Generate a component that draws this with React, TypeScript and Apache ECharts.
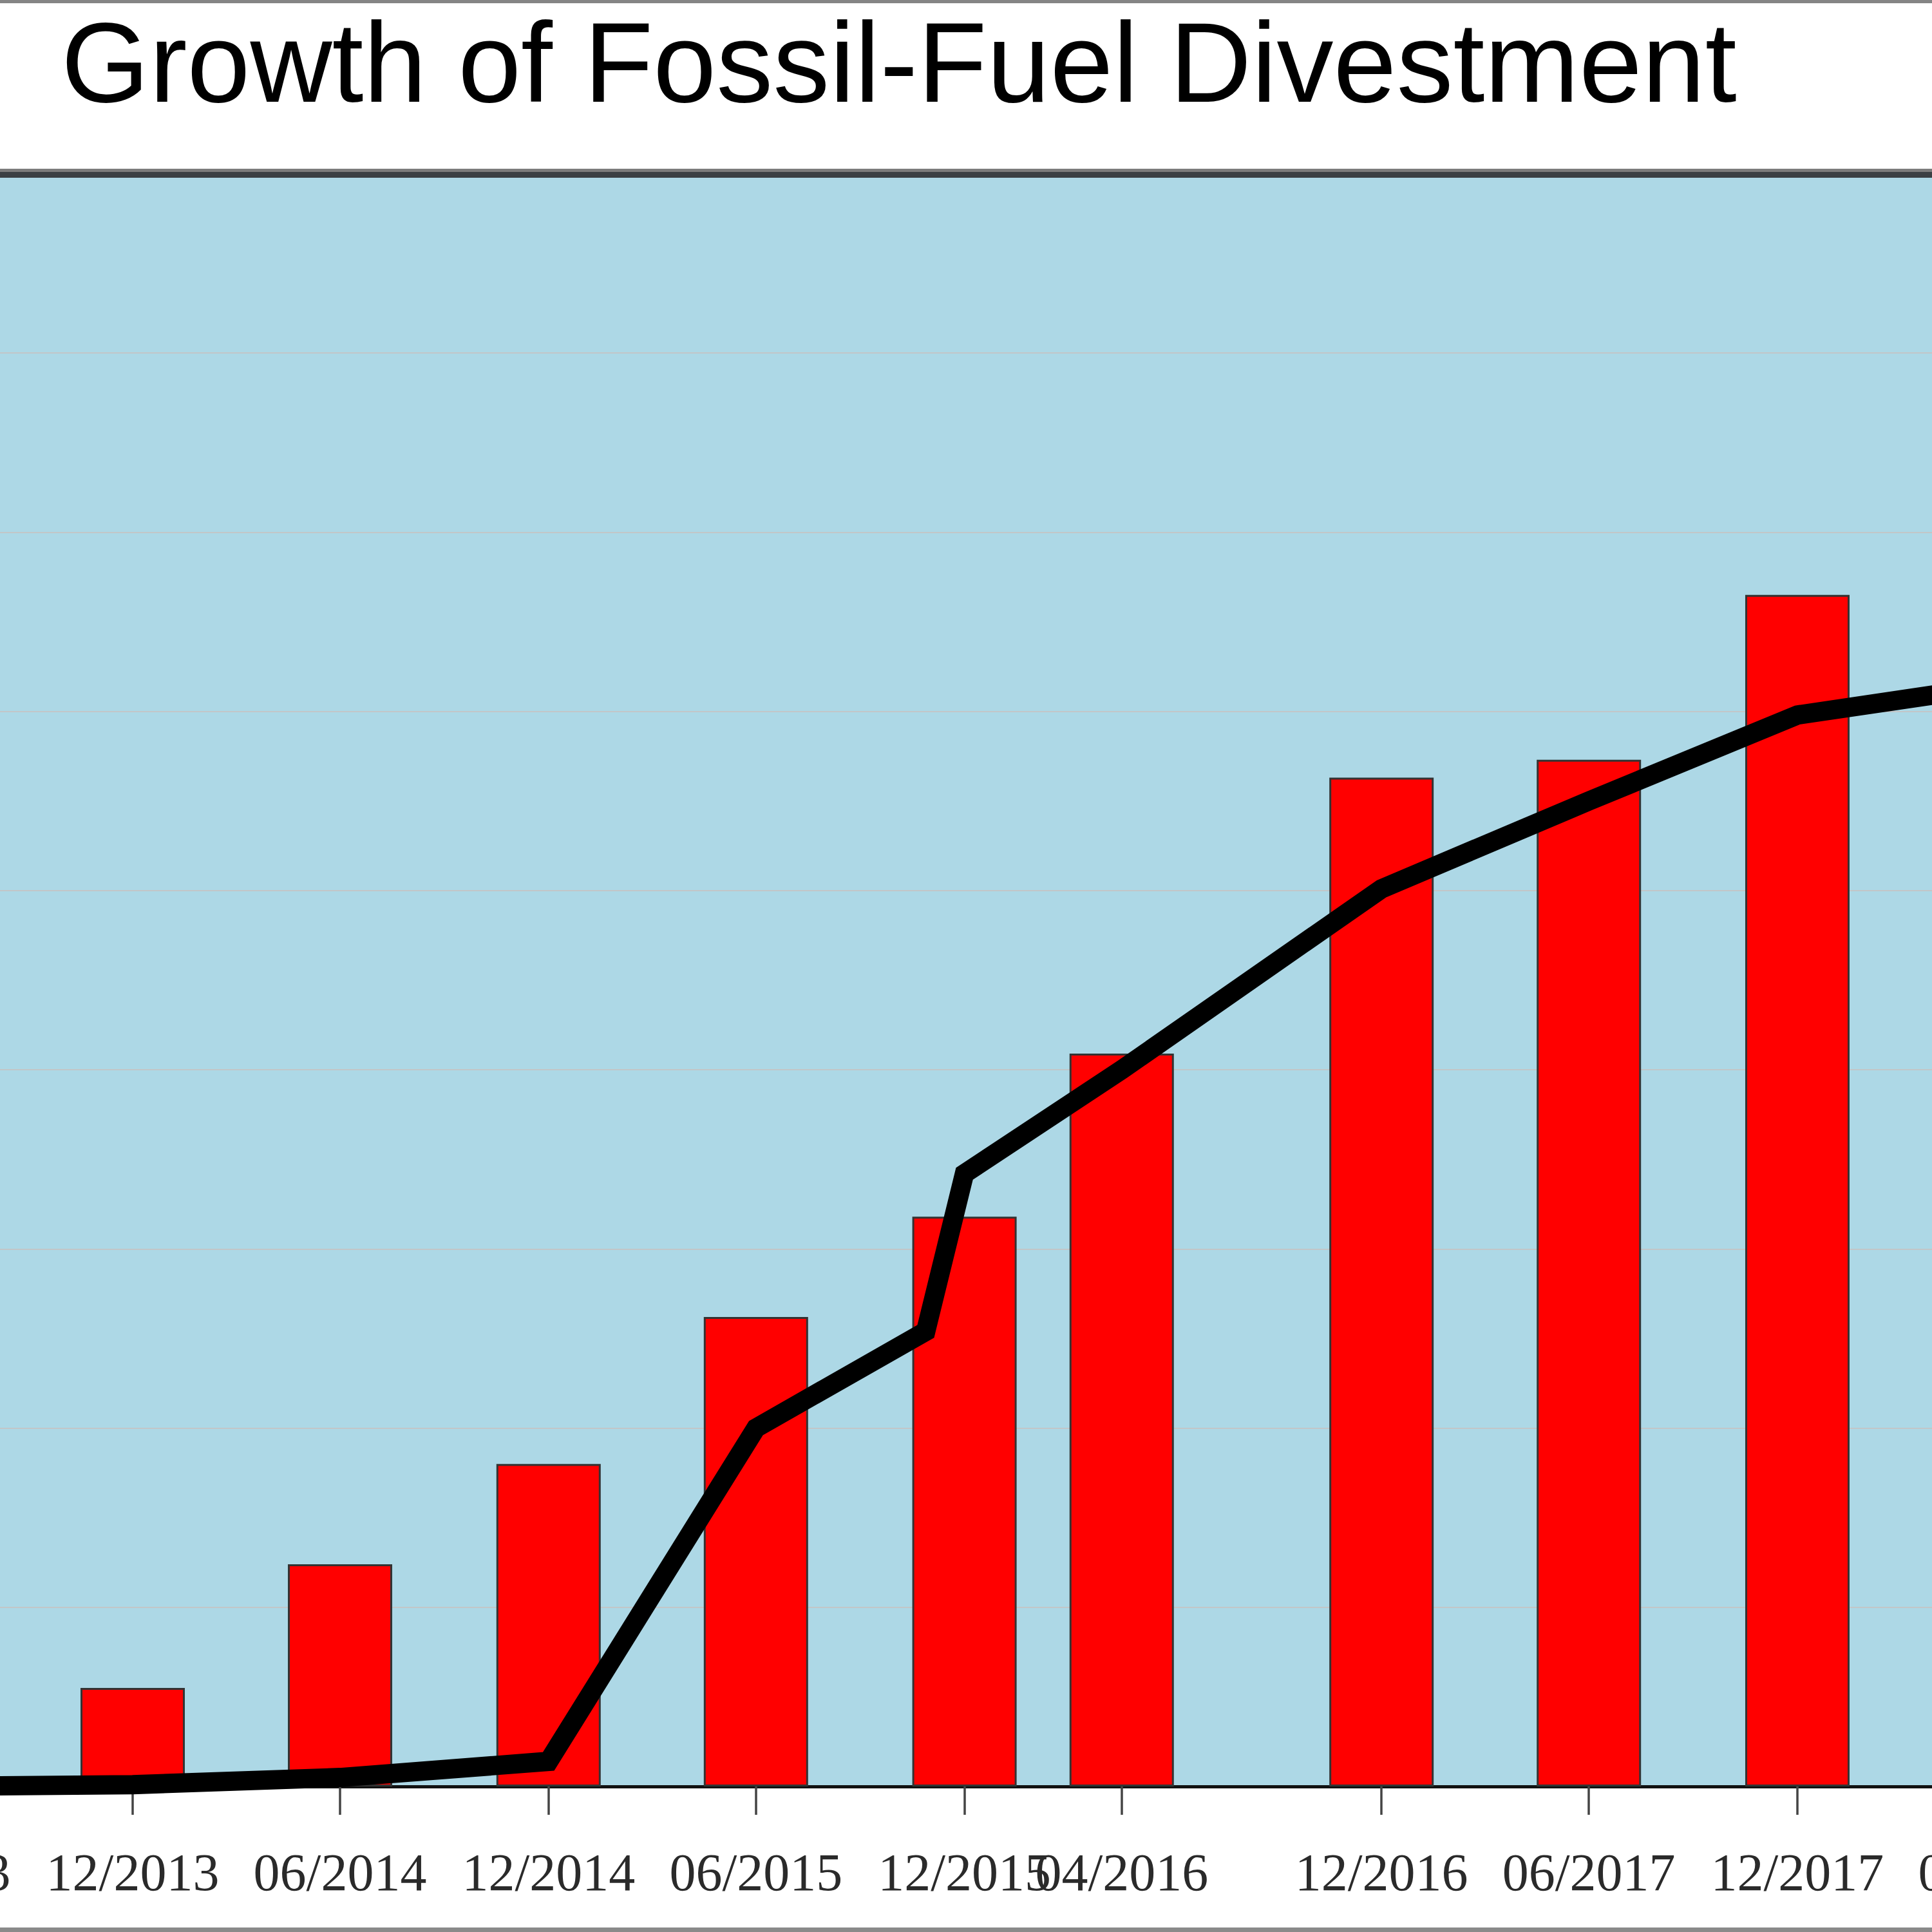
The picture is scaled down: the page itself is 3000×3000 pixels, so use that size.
import React, { useEffect, useRef } from "react";
import * as echarts from "echarts";

const TITLE = "Growth of Fossil-Fuel Divestment";

// Institutions committed (bars, left axis 0–900)
const barDates = [
  "2013-12-01", "2014-06-01", "2014-12-01", "2015-06-01", "2015-12-01",
  "2016-04-17", "2016-12-01", "2017-06-01", "2017-12-01",
];
const barValues = [55, 124, 180, 262, 318, 409, 563, 573, 665];

// Assets under management, trillion USD (line, right axis 0–9)
const lineDates = [
  "2013-06-01", "2013-12-01", "2014-06-01", "2014-12-01", "2015-06-01",
  "2015-10-28", "2015-12-01", "2016-04-17", "2016-12-01", "2017-06-01",
  "2017-12-01", "2018-06-01",
];
const lineValues = [0, 0.01, 0.05, 0.14, 2.0, 2.54, 3.42, 4.0, 5.01, 5.5, 5.98, 6.15];

// Dates that carry a tick and a MM/YYYY label
const tickDates = [
  "2013-06-01", "2013-12-01", "2014-06-01", "2014-12-01", "2015-06-01",
  "2015-12-01", "2016-04-17", "2016-12-01", "2017-06-01", "2017-12-01",
  "2018-06-01",
];

const ts = (d: string) => Date.parse(d + "T00:00:00Z");

// The chart canvas is wider than the page; the axis range spans the whole canvas
const OFFSET = 400;
const CHART_W = 3000 + 2 * OFFSET;
const CHART_H = 3000;
const X_MIN = Date.UTC(2012, 11, 23, 12);
const X_MAX = Date.UTC(2018, 10, 10, 5);

const fmtMonth = (v: number) => {
  const d = new Date(v);
  const m = d.getUTCMonth() + 1;
  return (m < 10 ? "0" + m : "" + m) + "/" + d.getUTCFullYear();
};

export default function App() {
  const ref = useRef<HTMLDivElement>(null);

  useEffect(() => {
    if (!ref.current) return;
    const chart = echarts.init(ref.current, null, { renderer: "svg" });
    const ticks = tickDates.map(ts);

    chart.setOption({
      animation: false,
      backgroundColor: "#ffffff",
      grid: {
        left: 0,
        right: 0,
        top: 270,
        bottom: 226,
        show: true,
        backgroundColor: "#add8e6",
        borderWidth: 0,
      },
      xAxis: {
        // timestamps on a value axis so ticks can sit on arbitrary dates
        type: "value",
        min: X_MIN,
        max: X_MAX,
        axisLine: { show: true, lineStyle: { color: "#111111", width: 5 } },
        axisTick: {
          show: true,
          customValues: ticks,
          length: 44,
          lineStyle: { color: "#444444", width: 3.5 },
        },
        axisLabel: {
          customValues: ticks,
          formatter: (v: number) => fmtMonth(v),
          fontFamily: "Liberation Serif",
          fontSize: 82,
          color: "#2a2a2a",
          margin: 92,
          hideOverlap: false,
        },
        splitLine: { show: false },
      },
      yAxis: [
        {
          type: "value",
          min: 0,
          max: 900,
          interval: 100,
          axisLine: { show: false },
          axisTick: { show: false },
          axisLabel: { show: false },
          splitLine: { show: true, lineStyle: { color: "#c2c6c8", width: 2 } },
        },
        {
          type: "value",
          min: 0,
          max: 9,
          interval: 1,
          axisLine: { show: false },
          axisTick: { show: false },
          axisLabel: { show: false },
          splitLine: { show: false },
        },
      ],
      series: [
        {
          name: "Institutions",
          type: "bar",
          yAxisIndex: 0,
          barWidth: 162,
          itemStyle: { color: "#ff0000", borderColor: "#333333", borderWidth: 3 },
          data: barDates.map((d, i) => [ts(d), barValues[i]]),
        },
        {
          name: "Assets",
          type: "line",
          yAxisIndex: 1,
          showSymbol: false,
          symbol: "none",
          lineStyle: { color: "#000000", width: 30, join: "miter", cap: "butt" },
          data: lineDates.map((d, i) => [ts(d), lineValues[i]]),
          z: 5,
        },
      ],
      graphic: [
        // outer frame lines, top and bottom
        { type: "rect", left: OFFSET, top: 0, shape: { width: 3000, height: 5 }, style: { fill: "#858585" }, z: 10 },
        { type: "rect", left: OFFSET, top: 2993, shape: { width: 3000, height: 7 }, style: { fill: "#8a8a8a" }, z: 10 },
        // plot frame, top edge
        { type: "rect", left: 0, top: 262, shape: { width: CHART_W, height: 5 }, style: { fill: "#7c7c7c" }, z: 10 },
        { type: "rect", left: 0, top: 267, shape: { width: CHART_W, height: 9 }, style: { fill: "#3b4044" }, z: 10 },
        {
          type: "text",
          x: OFFSET + 95,
          y: 97,
          z: 10,
          style: {
            text: TITLE,
            fill: "#000000",
            font: "176px 'Liberation Sans', Arial, sans-serif",
            verticalAlign: "middle",
            align: "left",
          },
        },
      ],
    });

    return () => chart.dispose();
  }, []);

  return (
    <div style={{ position: "fixed", left: 0, top: 0, width: 3000, height: 3000, overflow: "hidden", background: "#ffffff" }}>
      <div ref={ref} style={{ position: "absolute", left: -OFFSET, top: 0, width: CHART_W, height: CHART_H }} />
    </div>
  );
}
